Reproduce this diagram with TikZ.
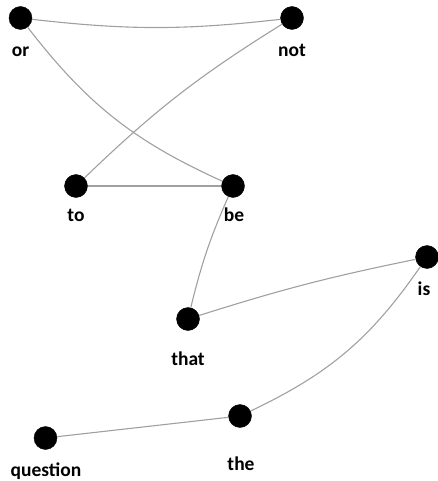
\documentclass[tikz,border=0pt]{standalone}
\usepackage{fontspec}
\setmainfont{Carlito}
\usepackage{tikz}
\usetikzlibrary{positioning}

\begin{document}
\begin{tikzpicture}[x=1pt,y=1pt]
            \tikzstyle{word} = [draw=black, fill=black, circle, minimum size=23pt, inner sep=0pt]
            \tikzstyle{tag} = [anchor=base, font=\bfseries\fontsize{19.5}{19.5}\selectfont, inner sep=0pt]
            \tikzstyle{link} = [draw={rgb,255:red,160;green,160;blue,160}, line width=1.1pt]
            \useasboundingbox (0,0) rectangle (438,-481);
            \node [word] (or) at (20.5,-18) {};
            \node [word] (not) at (292,-18) {};
            \node [word] (to) at (76,-186) {};
            \node [word] (be) at (233,-186) {};
            \node [word] (that) at (188,-319) {};
            \node [word] (is) at (427,-257) {};
            \node [word] (question) at (45.5,-438) {};
            \node [word] (the) at (240,-416) {};

            \node [tag] (orText) at (20.5,-57) {or};
            \node [tag] (notText) at (292,-57) {not};
            \node [tag] (toText) at (76,-221.5) {to};
            \node [tag] (beText) at (234,-221.5) {be};
            \node [tag] (thatText) at (188,-365) {that};
            \node [tag] (isText) at (424,-295) {is};
            \node [tag] (questionText) at (46,-476.5) {question};
            \node [tag] (theText) at (241,-470) {the};

            \draw [link] (or) to[bend right=6.5] (not);
            \draw [link] (or) to[bend right=14] (be);
            \draw [link] (to) to[bend left=6] (not);
            \draw [link] (to) -- (be);
            \draw [link] (be) to[bend right=5] (that);
            \draw [link] (that) to[bend left=3] (is);
            \draw [link] (is) to[bend left=15] (the);
            \draw [link] (the) -- (question);
\end{tikzpicture}
\end{document}
